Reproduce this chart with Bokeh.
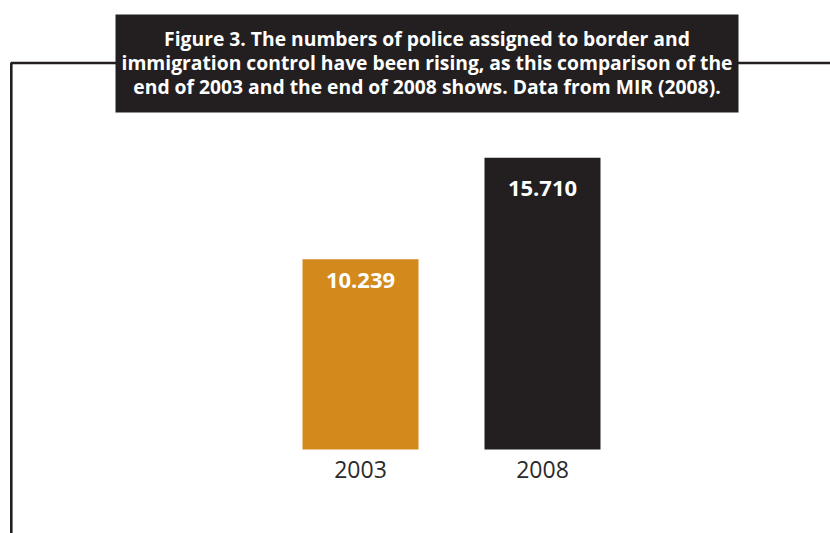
from bokeh.plotting import figure
from bokeh.models import Range1d
from bokeh.core.properties import value
from bokeh.embed import file_html
from bokeh.resources import INLINE

# ---- data ----
years = ["2003", "2008"]
police = [10239, 15710]
bar_colors = ["#d4891c", "#231f20"]
title_lines = [
    "Figure 3. The numbers of police assigned to border and",
    "immigration control have been rising, as this comparison of the",
    "end of 2003 and the end of 2008 shows. Data from MIR (2008).",
]

# ---- layout constants (pixels of the page) ----
W, H = 830, 533
OX, OY = 0, 0                  # where the figure sits on the page
X0_PX, UNIT_X_PX = 360, 182    # page x of first category centre, px per category
Y0_PX, PX_PER_UNIT = 449, 0.01857  # page y of value 0, px per police officer
BAR_W_PX = 116
DARK = "#231f20"

x_start = -(X0_PX - OX) / UNIT_X_PX
x_end = x_start + W / UNIT_X_PX
y_start = -(OY + H - Y0_PX) / PX_PER_UNIT
y_end = (Y0_PX - OY) / PX_PER_UNIT


def px2x(px):
    return x_start + (px - OX) / UNIT_X_PX


def py2y(py):
    return y_end - (py - OY) / PX_PER_UNIT


p = figure(width=W, height=H, x_range=Range1d(x_start, x_end),
           y_range=Range1d(y_start, y_end), output_backend="svg",
           toolbar_location=None, min_border=0, x_axis_type=None,
           y_axis_type=None)
p.grid.visible = False
p.outline_line_color = None
p.background_fill_color = "white"
p.border_fill_color = "white"

idx = list(range(len(years)))

# frame lines
p.line([px2x(10.8), px2x(10.8), px2x(116)], [py2y(545), py2y(62.5), py2y(62.5)],
       line_color=DARK, line_width=2.6)
p.line([px2x(737), px2x(845)], [py2y(62.5), py2y(62.5)],
       line_color=DARK, line_width=2.6)

# title box
p.quad(left=px2x(115), right=px2x(738), top=py2y(14), bottom=py2y(112),
       fill_color=DARK, line_color=None)
title_baselines = [38, 62, 86]
p.text(x=[px2x(426.5)] * 3, y=[py2y(b) for b in title_baselines], text=title_lines,
       text_align="center", text_baseline="alphabetic", text_color="white",
       text_font=value("Open Sans"), text_font_style="bold", text_font_size="19.3px")

# bars
p.vbar(x=idx, top=police, bottom=0, width=BAR_W_PX / UNIT_X_PX,
       fill_color=bar_colors, line_color=None)

# value labels inside bars
labels = [f"{v:,}".replace(",", ".") for v in police]
label_offsets = [21, 31]
p.text(x=idx, y=police, text=labels, y_offset=label_offsets, text_align="center",
       text_baseline="alphabetic", text_color="white",
       text_font=value("Open Sans"), text_font_style="bold", text_font_size="22px")

# category labels
p.text(x=idx, y=[0] * len(idx), text=years, y_offset=20, text_align="center",
       text_baseline="alphabetic", text_color="#2a2a2a",
       text_font=value("Open Sans"), text_font_size="23px")

open("out.html", "w").write(file_html(p, INLINE))
